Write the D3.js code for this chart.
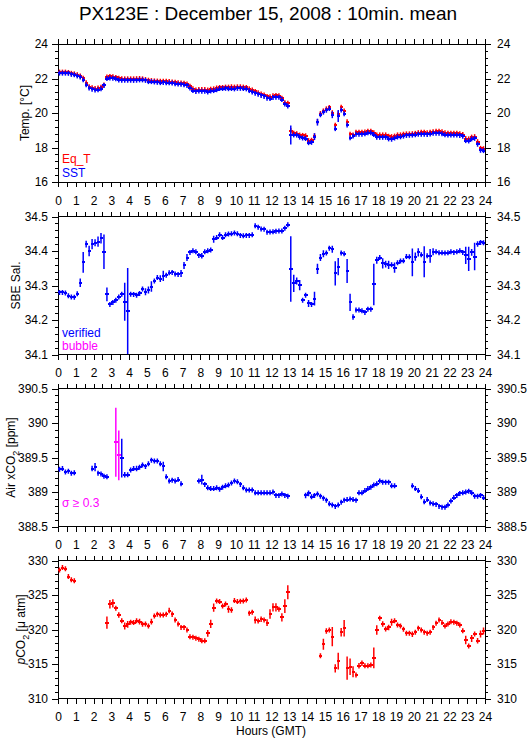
<!DOCTYPE html>
<html>
<head>
<meta charset="utf-8">
<script src="https://cdn.jsdelivr.net/npm/d3@7"></script>
<style>
  body { margin: 0; background: #fff; }
  text { font-family: "Liberation Sans", Arial, sans-serif; }
</style>
</head>
<body>
<div id="chart"></div>
<script>
// 10-minute means, slot i covers hours i/6 .. (i+1)/6 (one row per hour)
var eqT = [
  22.37,22.37,22.37,22.35,22.30,22.27,
  22.22,22.15,22.02,21.75,21.52,21.47,
  21.42,21.45,21.50,21.62,22.08,22.12,
  22.10,22.06,22.02,21.99,21.98,21.98,
  21.98,21.98,21.99,22.00,21.98,21.94,
  21.90,21.88,21.86,21.85,21.84,21.84,
  21.84,21.82,21.80,21.78,21.76,21.74,
  21.72,21.68,21.55,21.40,21.33,21.36,
  21.36,21.36,21.33,21.38,21.40,21.45,
  21.48,21.48,21.50,21.50,21.52,21.50,
  21.52,21.52,21.50,21.48,21.40,21.33,
  21.25,21.18,21.10,21.05,20.96,20.94,
  21.00,21.02,21.00,20.86,20.60,20.57,
  18.98,18.83,18.80,18.72,18.70,18.68,
  18.40,18.42,18.67,19.50,19.97,20.12,
  20.24,20.32,20.02,19.29,19.95,20.34,
  20.12,19.50,18.77,18.72,18.88,18.88,
  18.88,18.90,18.94,18.94,18.85,18.73,
  18.73,18.73,18.73,18.65,18.63,18.66,
  18.73,18.73,18.77,18.79,18.79,18.80,
  18.82,18.86,18.88,18.88,18.86,18.88,
  18.92,18.94,18.94,18.92,18.86,18.83,
  18.83,18.83,18.83,18.80,18.75,18.52,
  18.50,18.60,18.63,18.34,17.95,17.93
]
var sst = [
  22.31,22.31,22.31,22.30,22.24,22.22,
  22.15,22.08,21.93,21.64,21.45,21.38,
  21.33,21.35,21.40,21.60,22.00,22.03,
  22.02,21.98,21.92,21.90,21.90,21.90,
  21.90,21.89,21.90,21.92,21.92,21.89,
  21.82,21.82,21.80,21.78,21.76,21.77,
  21.76,21.76,21.74,21.70,21.68,21.66,
  21.64,21.60,21.45,21.30,21.25,21.27,
  21.26,21.26,21.22,21.28,21.30,21.35,
  21.42,21.42,21.43,21.41,21.42,21.40,
  21.43,21.43,21.42,21.40,21.30,21.22,
  21.15,21.08,21.02,20.96,20.86,20.84,
  20.90,20.92,20.92,20.78,20.52,20.40,
  18.73,18.73,18.72,18.60,18.55,18.52,
  18.28,18.30,18.63,19.47,19.90,20.05,
  20.16,20.26,19.90,19.10,19.83,20.18,
  19.95,19.31,18.57,18.67,18.77,18.77,
  18.77,18.80,18.86,18.86,18.75,18.60,
  18.59,18.59,18.59,18.50,18.48,18.55,
  18.61,18.62,18.66,18.70,18.71,18.72,
  18.74,18.77,18.77,18.77,18.76,18.78,
  18.83,18.83,18.83,18.80,18.74,18.73,
  18.73,18.73,18.73,18.70,18.65,18.40,
  18.38,18.50,18.53,18.19,17.84,17.82
]
var eqTSd = [[78, 0.1]]
var sstSd = [[78, 0.55], [86, 0.2], [87, 0.2], [92, 0.2], [93, 0.15], [94, 0.35], [97, 0.1], [98, 0.1]]

var sal = [
  34.280,34.280,34.278,34.270,34.267,34.266,
  34.276,34.308,34.367,34.420,34.400,34.420,
  34.424,34.427,34.437,34.398,34.274,34.245,
  34.251,34.257,34.267,34.275,34.253,34.226,
  34.275,34.274,34.272,34.277,34.290,34.282,
  34.287,34.297,34.313,34.323,34.320,34.328,
  34.330,34.337,34.338,34.333,34.332,34.335,
  34.358,34.381,34.396,34.401,34.398,34.387,
  34.386,34.398,34.401,34.403,34.434,34.439,
  34.447,34.439,34.447,34.449,34.450,34.452,
  34.450,34.445,34.444,34.445,34.445,34.447,
  34.473,34.469,34.464,34.463,34.454,34.455,
  34.456,34.457,34.458,34.458,34.466,34.476,
  34.348,34.306,34.313,34.301,34.257,34.272,
  34.248,34.245,34.262,34.348,34.381,34.392,
  34.394,34.408,34.405,34.335,34.355,34.394,
  34.392,34.342,34.251,34.209,34.229,34.229,
  34.227,34.222,34.231,34.231,34.303,34.373,
  34.381,34.364,34.362,34.360,34.360,34.352,
  34.366,34.371,34.372,34.384,34.383,34.367,
  34.384,34.396,34.389,34.369,34.386,34.386,
  34.398,34.398,34.395,34.395,34.394,34.395,
  34.398,34.396,34.398,34.401,34.396,34.387,
  34.377,34.396,34.384,34.420,34.425,34.424
]
var salSd = [[7,0.012],[8,0.03],[9,0.01],[10,0.015],[11,0.015],[12,0.01],[13,0.015],[14,0.015],
  [15,0.05],[16,0.02],[22,0.055],[23,0.125],[29,0.01],[30,0.01],[31,0.015],[34,0.01],[35,0.015],
  [41,0.01],[42,0.01],[43,0.01],[48,0.008],[52,0.01],[78,0.095],[79,0.025],[80,0.01],[81,0.015],
  [84,0.01],[86,0.02],[87,0.015],[88,0.01],[89,0.01],[92,0.01],[93,0.035],[94,0.025],[97,0.035],
  [98,0.025],[99,0.008],[106,0.06],[107,0.01],[109,0.015],[110,0.01],[111,0.012],[113,0.015],
  [119,0.04],[120,0.012],[121,0.012],[123,0.045],[125,0.02],[126,0.01],[137,0.025],[138,0.035],
  [139,0.01],[140,0.04],[141,0.008]]

var xco2 = [
  389.33,389.34,389.29,389.30,389.27,389.28,
  null,null,null,null,null,389.34,
  389.36,389.27,389.26,389.23,389.22,null,
  null,389.72,389.53,389.49,389.25,389.25,
  389.32,389.34,389.34,389.36,389.39,389.37,
  389.41,389.46,389.45,389.45,389.41,389.37,
  389.22,389.16,389.17,389.16,389.18,389.12,
  null,null,null,null,null,389.16,
  389.18,389.11,389.06,389.05,389.05,389.06,
  389.04,389.07,389.09,389.10,389.13,389.16,
  389.15,389.11,389.06,389.03,389.03,389.03,
  388.99,388.99,388.99,388.99,388.99,388.99,
  389.00,388.95,388.95,388.97,388.95,388.94,
  null,null,null,null,null,388.95,
  388.98,388.93,388.95,388.97,388.94,388.91,
  388.88,388.83,388.81,388.79,388.81,388.85,
  388.88,388.89,388.90,388.89,388.88,388.99,
  388.99,389.02,389.05,389.07,389.10,389.12,
  389.16,389.14,389.14,389.14,389.09,389.09,
  null,null,null,null,null,389.09,
  389.05,389.02,388.93,388.86,388.89,388.84,
  388.83,388.82,388.79,388.78,388.78,388.81,
  388.87,388.92,388.95,388.98,388.99,389.00,
  389.01,388.99,388.94,388.94,388.95,388.92
]
var xco2Sd = [[1,0.03],[5,0.02],[11,0.04],[12,0.06],[19,0.5],[20,0.36],[21,0.28],[22,0.04],
  [26,0.04],[35,0.07],[48,0.07],[59,0.03],[72,0.03],[83,0.04],[84,0.04],[101,0.02],[119,0.02],[123,0.03]]

var pco2 = [
  328.64,328.98,328.79,327.68,327.20,327.05,
  null,null,null,null,null,null,
  null,null,null,null,321.00,323.66,
  323.80,323.07,322.10,321.28,320.50,320.75,
  321.04,321.00,321.28,321.14,320.75,320.80,
  320.50,321.14,321.96,322.20,322.10,322.10,
  322.20,322.74,322.20,321.38,320.80,320.30,
  320.30,319.93,318.96,318.86,318.72,318.57,
  318.38,318.38,319.44,320.80,323.17,324.14,
  324.04,323.40,323.70,322.93,322.83,324.19,
  324.04,324.10,324.14,324.29,322.35,322.50,
  321.38,321.23,321.50,321.38,321.00,322.25,
  323.20,323.20,322.93,321.77,323.40,325.40,
  null,null,null,null,null,null,
  null,null,null,null,316.20,317.85,
  319.78,319.93,318.96,314.36,315.42,319.60,
  320.17,314.40,314.60,313.87,313.40,314.75,
  315.10,314.75,314.75,314.85,315.90,319.93,
  321.62,320.80,320.07,320.30,321.04,321.28,
  320.65,320.50,320.02,319.44,319.44,319.30,
  319.60,320.17,319.93,319.60,319.44,319.60,
  320.30,320.90,321.38,321.00,320.50,320.80,
  321.14,321.04,320.90,320.65,319.83,318.48,
  317.60,318.70,319.34,318.38,319.34,319.78
]
var pco2Sd = [[16,0.9],[17,0.6],[18,0.6],[20,0.4],[22,0.5],[23,0.5],[27,0.4],[31,0.4],[37,0.4],
  [38,0.4],[50,0.5],[51,0.6],[52,0.6],[57,0.5],[58,0.4],[66,0.5],[68,0.4],[70,0.5],[71,0.7],
  [72,0.6],[73,0.6],[75,0.6],[76,1.0],[77,1.0],[88,0.3],[89,0.8],[90,0.4],[92,1.4],[93,0.6],
  [94,1.2],[95,0.6],[96,1.2],[97,1.7],[98,1.2],[99,0.8],[101,0.4],[102,0.4],[106,1.5],[107,0.7],
  [109,0.4],[111,0.4],[112,0.5],[119,0.4],[137,0.6],[139,0.5],[141,0.4],[142,0.5],[143,0.5]]

var hourTicks = d3.range(0, 24.01, 0.5)

var width = 529, height = 739
var left = 58, right = 485, panelH = 138
var panelTops = [44, 216.5, 388.5, 560.5]

var svg = d3.select("#chart").append("svg")
  .attr("width", width).attr("height", height)

var x = d3.scaleLinear().domain([0, 24]).range([left, right])

svg.append("text")
  .attr("x", 268).attr("y", 20)
  .attr("text-anchor", "middle")
  .style("font-size", "19px")
  .text("PX123E : December 15, 2008 : 10min. mean")

function fmt(d) { return String(+d.toFixed(2)) }

function drawPanel(idx, domain, major, minor, titleX) {
  var top = panelTops[idx], bottom = top + panelH
  var y = d3.scaleLinear().domain(domain).range([bottom, top])
  var g = svg.append("g")

  g.append("clipPath").attr("id", "clip" + idx)
    .append("rect").attr("x", left).attr("y", top)
    .attr("width", right - left).attr("height", panelH)

  g.append("rect")
    .attr("x", left).attr("y", top)
    .attr("width", right - left).attr("height", panelH)
    .attr("fill", "none").attr("stroke", "black")
    .attr("shape-rendering", "crispEdges")

  var ax = [
    [d3.axisTop(x).tickValues(hourTicks).tickSize(5).tickFormat(""), "translate(0," + top + ")"],
    [d3.axisBottom(x).tickValues(hourTicks).tickSize(5).tickPadding(9)
      .tickFormat(function (d) { return d % 1 === 0 ? d : "" }), "translate(0," + bottom + ")"],
    [d3.axisLeft(y).tickValues(minor).tickSize(3).tickFormat(""), "translate(" + left + ",0)"],
    [d3.axisLeft(y).tickValues(major).tickSize(6).tickPadding(4).tickFormat(fmt), "translate(" + left + ",0)"],
    [d3.axisRight(y).tickValues(minor).tickSize(3).tickFormat(""), "translate(" + right + ",0)"],
    [d3.axisRight(y).tickValues(major).tickSize(6).tickPadding(6).tickFormat(fmt), "translate(" + right + ",0)"]
  ]
  ax.forEach(function (a) {
    var ga = g.append("g").attr("transform", a[1]).call(a[0])
    ga.select(".domain").remove()
    ga.selectAll("line").attr("shape-rendering", "crispEdges")
    ga.selectAll("text").style("font-size", "12px").style("font-family", "'Liberation Sans', Arial, sans-serif")
  })

  var title = g.append("text")
    .attr("transform", "translate(" + titleX + "," + (top + panelH / 2) + ") rotate(-90)")
    .attr("text-anchor", "middle")
    .style("font-size", "12px")
  return { g: g.append("g").attr("clip-path", "url(#clip" + idx + ")"), y: y, title: title, top: top, bottom: bottom }
}

function drawSeries(p, values, sdPairs, colorFn) {
  var sd = {}
  sdPairs.forEach(function (s) { sd[s[0]] = s[1] })
  var pts = []
  values.forEach(function (v, i) { if (v != null) pts.push({ i: i, v: v, sd: sd[i] || 0 }) })
  var g = p.g.append("g")
  // horizontal part: the 10-minute span
  g.selectAll(".h").data(pts).join("line")
    .attr("shape-rendering", "crispEdges")
    .attr("x1", function (d) { return x(d.i / 6) })
    .attr("x2", function (d) { return x((d.i + 1) / 6) + 0.5 })
    .attr("y1", function (d) { return p.y(d.v) })
    .attr("y2", function (d) { return p.y(d.v) })
    .attr("stroke", colorFn).attr("stroke-width", 2)
  // vertical part: standard deviation
  g.selectAll(".v").data(pts).join("line")
    .attr("x1", function (d) { return x((d.i + 0.5) / 6) })
    .attr("x2", function (d) { return x((d.i + 0.5) / 6) })
    .attr("y1", function (d) { return Math.min(p.y(d.v + d.sd), p.y(d.v) - 2.5) })
    .attr("y2", function (d) { return Math.max(p.y(d.v - d.sd), p.y(d.v) + 2.5) })
    .attr("stroke", colorFn).attr("stroke-width", 1.5)
}

function legend(p, lines) {
  lines.forEach(function (l) {
    svg.append("text").attr("x", 62).attr("y", l[1])
      .attr("fill", l[2]).style("font-size", "12px").text(l[0])
  })
}

// Temperature
var p1 = drawPanel(0, [16, 24], d3.range(16, 24.01, 2), d3.range(16, 24.01, 0.4), 29)
p1.title.text("Temp. [°C]")
drawSeries(p1, eqT, eqTSd, function () { return "#ff0000" })
drawSeries(p1, sst, sstSd, function () { return "#0000ff" })
legend(p1, [["Eq_T", 163, "#ff0000"], ["SST", 177, "#0000ff"]])

// Salinity
var p2 = drawPanel(1, [34.1, 34.5], d3.range(34.1, 34.51, 0.1), d3.range(34.1, 34.51, 0.02), 20)
p2.title.text("SBE Sal.")
drawSeries(p2, sal, salSd, function () { return "#0000ff" })
legend(p2, [["verified", 337, "#0000ff"], ["bubble", 350, "#ff00ff"]])

// Air xCO2
var p3 = drawPanel(2, [388.5, 390.5], d3.range(388.5, 390.51, 0.5), d3.range(388.5, 390.51, 0.1), 15)
p3.title.append("tspan").text("Air xCO")
p3.title.append("tspan").attr("dy", 4).style("font-size", "9px").text("2")
p3.title.append("tspan").attr("dy", -4).text(" [ppm]")
drawSeries(p3, xco2, xco2Sd, function (d) { return d.sd >= 0.3 ? "#ff00ff" : "#0000ff" })
legend(p3, [["σ ≥ 0.3", 507, "#ff00ff"]])

// pCO2
var p4 = drawPanel(3, [310, 330], d3.range(310, 330.1, 5), d3.range(310, 330.1, 1), 25)
p4.title.append("tspan").style("font-style", "italic").text("p")
p4.title.append("tspan").text("CO")
p4.title.append("tspan").attr("dy", 4).style("font-size", "9px").text("2")
p4.title.append("tspan").attr("dy", -4).text(" [μ atm]")
drawSeries(p4, pco2, pco2Sd, function () { return "#ff0000" })

svg.append("text")
  .attr("x", 271).attr("y", 735)
  .attr("text-anchor", "middle")
  .style("font-size", "12px")
  .text("Hours (GMT)")
</script>
</body>
</html>
